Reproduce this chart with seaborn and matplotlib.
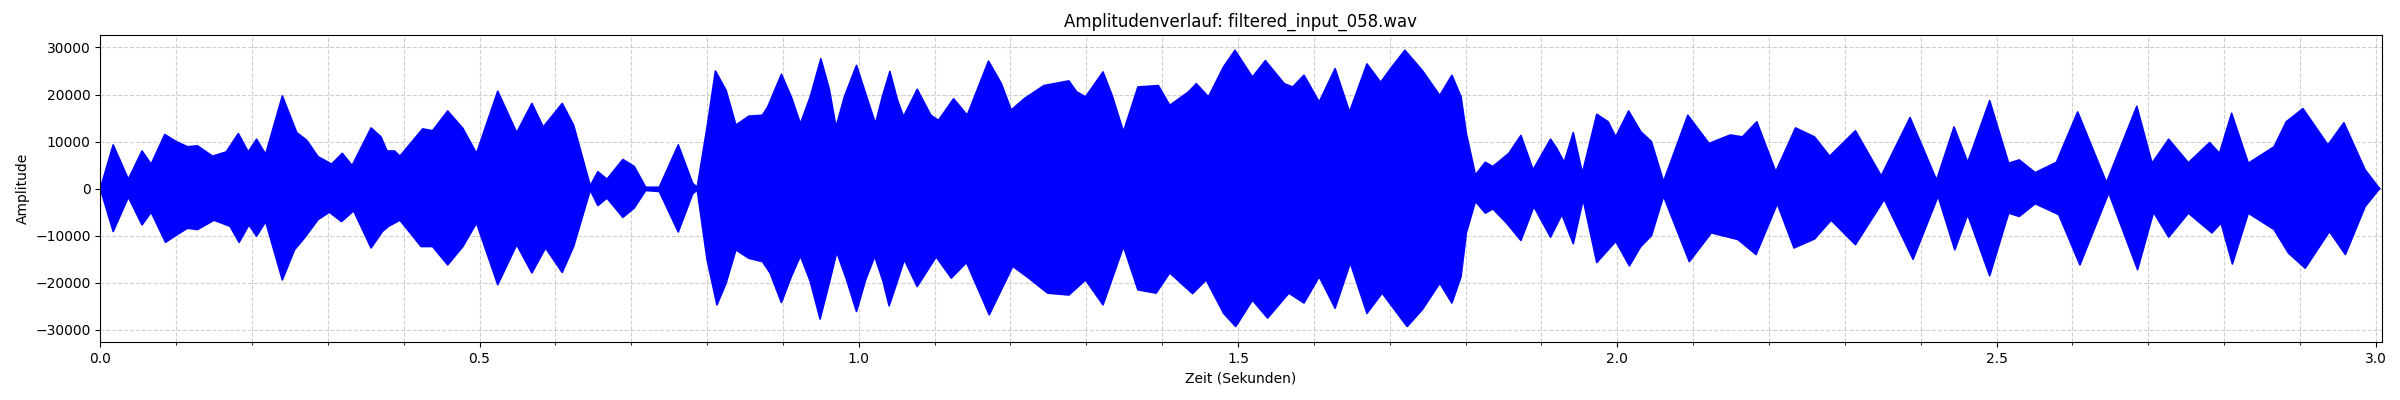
import numpy as np
import pandas as pd
import matplotlib
matplotlib.use("Agg")
import matplotlib.pyplot as plt
from matplotlib.ticker import MultipleLocator
import seaborn as sns

# envelope of the waveform (time in s, amplitude)
upper_time = [0.000, 0.017, 0.037, 0.055, 0.067, 0.085, 0.100, 0.115, 0.128, 0.148,
              0.166, 0.182, 0.195, 0.206, 0.218, 0.240, 0.259, 0.272, 0.287, 0.305,
              0.319, 0.332, 0.357, 0.370, 0.378, 0.388, 0.395, 0.425, 0.438, 0.458,
              0.478, 0.496, 0.524, 0.549, 0.569, 0.584, 0.609, 0.624, 0.646, 0.656,
              0.668, 0.689, 0.704, 0.719, 0.737, 0.762, 0.781, 0.787, 0.800, 0.811,
              0.825, 0.838, 0.855, 0.873, 0.880, 0.898, 0.911, 0.923, 0.936, 0.950,
              0.961, 0.970, 0.981, 0.997, 1.009, 1.022, 1.031, 1.041, 1.051, 1.059,
              1.077, 1.095, 1.105, 1.125, 1.143, 1.171, 1.188, 1.201, 1.218, 1.244,
              1.277, 1.287, 1.299, 1.322, 1.334, 1.349, 1.368, 1.395, 1.410, 1.435,
              1.445, 1.461, 1.481, 1.496, 1.519, 1.536, 1.561, 1.572, 1.587, 1.607,
              1.628, 1.647, 1.670, 1.688, 1.703, 1.720, 1.743, 1.766, 1.782, 1.794,
              1.801, 1.813, 1.826, 1.836, 1.857, 1.873, 1.889, 1.912, 1.920, 1.930,
              1.942, 1.954, 1.973, 1.988, 1.998, 2.015, 2.031, 2.045, 2.061, 2.093,
              2.121, 2.149, 2.165, 2.184, 2.209, 2.235, 2.260, 2.280, 2.314, 2.348,
              2.386, 2.421, 2.444, 2.462, 2.491, 2.516, 2.530, 2.551, 2.579, 2.607,
              2.645, 2.685, 2.705, 2.727, 2.753, 2.781, 2.794, 2.810, 2.832, 2.866,
              2.882, 2.904, 2.937, 2.958, 2.986, 3.005]
upper_amp = [0, 9300, 2000, 8000, 5200, 11500, 10000, 8900, 9100, 6900,
             7800, 11700, 7800, 10500, 7300, 19700, 11900, 10300, 6800, 5200,
             7500, 4900, 12900, 11000, 8000, 8000, 6900, 12700, 12300, 16500,
             12800, 7500, 20700, 11900, 18100, 13100, 18100, 13500, 600, 3600,
             2000, 6200, 4700, 300, 300, 9300, 1100, 300, 13100, 25000,
             20900, 13500, 15400, 15600, 17400, 24300, 19500, 13800, 19500, 27600,
             21200, 13100, 19500, 26200, 20200, 13800, 19500, 24900, 18800, 15300,
             21100, 15600, 14500, 19100, 15600, 27100, 22300, 16700, 19100, 21900,
             22900, 20600, 19500, 24800, 19800, 12100, 21600, 21900, 17700, 20600,
             22300, 19500, 25900, 29400, 23700, 27200, 22300, 21600, 24100, 18400,
             25500, 16300, 26500, 22600, 25900, 29400, 25100, 19800, 24100, 19500,
             11700, 2900, 5600, 4700, 7500, 11300, 4000, 10500, 8600, 5600,
             11900, 3300, 15800, 14200, 11000, 16500, 12100, 10000, 1500, 15600,
             9600, 11400, 11000, 14200, 3600, 12900, 11000, 6900, 12300, 2700,
             15100, 1800, 13100, 5600, 18700, 5400, 6100, 3400, 5600, 16300,
             1300, 17500, 5400, 10500, 5500, 9800, 7500, 16000, 5400, 8900,
             14200, 17000, 9300, 14000, 4000, 0]

lower_time = [0.000, 0.017, 0.037, 0.055, 0.067, 0.086, 0.100, 0.115, 0.128, 0.150,
              0.171, 0.183, 0.196, 0.206, 0.218, 0.240, 0.256, 0.269, 0.287, 0.302,
              0.318, 0.334, 0.357, 0.372, 0.380, 0.395, 0.423, 0.438, 0.458, 0.478,
              0.496, 0.524, 0.549, 0.569, 0.587, 0.609, 0.624, 0.646, 0.656, 0.668,
              0.689, 0.704, 0.719, 0.737, 0.762, 0.781, 0.787, 0.800, 0.813, 0.825,
              0.838, 0.855, 0.873, 0.883, 0.898, 0.911, 0.923, 0.936, 0.949, 0.961,
              0.971, 0.984, 0.997, 1.009, 1.021, 1.032, 1.040, 1.050, 1.060, 1.077,
              1.102, 1.122, 1.142, 1.172, 1.188, 1.203, 1.224, 1.249, 1.277, 1.299,
              1.322, 1.349, 1.368, 1.392, 1.410, 1.440, 1.458, 1.481, 1.497, 1.519,
              1.539, 1.567, 1.587, 1.607, 1.628, 1.648, 1.670, 1.690, 1.723, 1.743,
              1.766, 1.782, 1.794, 1.801, 1.813, 1.826, 1.836, 1.854, 1.873, 1.890,
              1.912, 1.927, 1.942, 1.955, 1.973, 1.998, 2.016, 2.031, 2.045, 2.061,
              2.095, 2.124, 2.159, 2.183, 2.211, 2.233, 2.260, 2.282, 2.314, 2.352,
              2.390, 2.423, 2.445, 2.462, 2.491, 2.516, 2.530, 2.551, 2.582, 2.610,
              2.648, 2.686, 2.707, 2.727, 2.753, 2.784, 2.796, 2.811, 2.832, 2.866,
              2.885, 2.907, 2.939, 2.960, 2.986, 3.005]
lower_amp = [0, -9100, -1800, -7700, -5000, -11400, -9900, -8400, -8700, -6700,
             -8000, -11400, -7700, -10100, -7000, -19400, -13000, -10500, -6600, -5000,
             -7000, -4700, -12600, -9100, -8000, -6700, -12300, -12300, -16200, -12300,
             -7300, -20400, -11900, -17900, -12600, -17800, -12300, -300, -3600, -2000,
             -6100, -4100, -400, -600, -9200, -1100, -300, -15100, -24700, -20100,
             -13000, -14800, -15500, -17900, -24200, -18700, -14300, -19700, -27700, -20100,
             -13500, -19400, -26100, -19400, -14400, -19700, -24900, -20100, -15100, -20800,
             -14500, -19000, -15700, -26800, -21500, -16500, -19000, -22200, -22600, -19400,
             -24700, -12300, -21500, -22200, -17900, -22300, -19400, -26500, -29300, -23700,
             -27500, -22200, -24300, -18700, -25400, -15800, -26500, -22200, -29300, -25700,
             -20100, -24300, -18700, -9400, -2700, -5200, -4300, -7300, -11000, -3800,
             -10300, -5500, -11700, -2300, -15700, -11200, -16400, -12300, -10000, -1600,
             -15500, -9400, -10800, -14000, -3200, -12600, -10700, -6700, -11900, -2300,
             -15000, -1600, -13000, -5500, -18500, -5200, -5900, -3200, -5500, -16200,
             -900, -17200, -5000, -10300, -5200, -9400, -7300, -16000, -5200, -8700,
             -13700, -16900, -9100, -14000, -3800, 0]

title = "Amplitudenverlauf: filtered_input_058.wav"

df_up = pd.DataFrame({"Zeit": upper_time, "Amplitude": upper_amp})
df_lo = pd.DataFrame({"Zeit": lower_time, "Amplitude": lower_amp})

fig, ax = plt.subplots(figsize=(24, 4), dpi=100)
plt.subplots_adjust(left=0.0418, right=0.9923, top=0.9125, bottom=0.1443)

# filled waveform body between the two envelopes (above the grid)
ax.fill(np.r_[df_up["Zeit"], df_lo["Zeit"][::-1]],
        np.r_[df_up["Amplitude"], df_lo["Amplitude"][::-1]],
        color="blue", linewidth=0, zorder=2)
sns.lineplot(data=df_up, x="Zeit", y="Amplitude", color="blue", linewidth=1.2,
             sort=False, estimator=None, ax=ax, zorder=2)
sns.lineplot(data=df_lo, x="Zeit", y="Amplitude", color="blue", linewidth=1.2,
             sort=False, estimator=None, ax=ax, zorder=2)

ax.set_xlim(0, 3.0076)
ax.set_ylim(-32650, 32650)
ax.xaxis.set_minor_locator(MultipleLocator(0.1))
ax.grid(True, which="both", linestyle="--", alpha=0.6)
ax.set_title(title)
ax.set_xlabel("Zeit (Sekunden)")
ax.set_ylabel("Amplitude")

plt.savefig("out.png", dpi=100)
